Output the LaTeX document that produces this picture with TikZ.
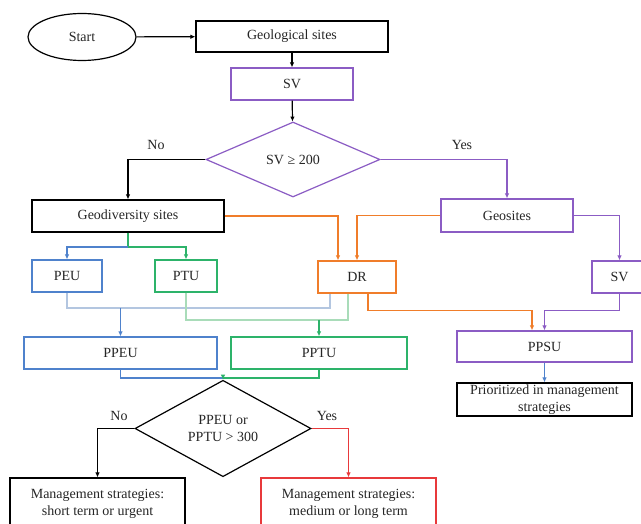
\documentclass[tikz,border=0pt]{standalone}
\usepackage{fontspec}
\setmainfont{Liberation Serif}
\usetikzlibrary{shapes.geometric,arrows.meta}
\definecolor{svpurple}{HTML}{8B5CC4}
\definecolor{drorange}{HTML}{F07D2A}
\definecolor{eublue}{HTML}{4F82CC}
\definecolor{tugreen}{HTML}{2DB36A}
\definecolor{paleblue}{HTML}{B3C6E0}
\definecolor{palegreen}{HTML}{A9DCB9}
\definecolor{ltred}{HTML}{E8393B}
\tikzset{
	box/.style={draw,rectangle,line width=1.2pt,inner sep=0pt,minimum height=32pt},
	decision/.style={draw,diamond,line width=1.2pt,inner sep=0pt,align=center},
	arrow/.style={line width=1.2pt,-{Latex[length=5pt,width=4.5pt]}},
	link/.style={line width=1.2pt}
}
\begin{document}
\begin{tikzpicture}[x=1pt,y=-1pt,font=\fontsize{14}{17}\selectfont,text=black!85]
	\useasboundingbox[fill=white] (0,0) rectangle (641,524);
	% nodes, placed at pixel coordinates
	\node[draw,ellipse,line width=1.2pt,minimum width=108pt,minimum height=47pt] (start) at (82,37) {Start};
	\node[box,minimum width=192pt,minimum height=31pt] (geo) at (292,36.5) {Geological sites};
	\node[box,draw=svpurple,minimum width=122pt] (sv) at (292,84) {SV};
	\node[decision,draw=svpurple,minimum width=174pt,minimum height=75pt] (dec) at (293,159.5) {SV ≥ 200};
	\node[box,minimum width=192pt] (geodiv) at (128,216) {Geodiversity sites};
	\node[box,draw=svpurple,minimum width=132pt,minimum height=33pt] (geosites) at (507,215.5) {Geosites};
	\node[box,draw=eublue,minimum width=70pt] (peu) at (67,276) {PEU};
	\node[box,draw=tugreen,minimum width=62pt] (ptu) at (186,276) {PTU};
	\node[box,draw=drorange,minimum width=78pt] (dr) at (357,277) {DR};
	\node[box,draw=svpurple,minimum width=55pt] (svr) at (619.5,277) {SV};
	\node[box,draw=eublue,minimum width=193pt] (ppeu) at (120.5,353) {PPEU};
	\node[box,draw=tugreen,minimum width=176pt] (pptu) at (319,353) {PPTU};
	\node[box,draw=svpurple,minimum width=175pt,minimum height=31pt] (ppsu) at (544.5,346.5) {PPSU};
	\node[box,align=center,minimum width=175pt,minimum height=33pt] (prio) at (544.5,399.5) {Prioritized in management\\strategies};
	\node[decision,minimum width=176pt,minimum height=77pt] (dec2) at (223,428.5) {PPEU or\\PPTU > 300};
	\node[box,align=center,minimum width=175pt,minimum height=52pt] (short) at (97.5,504) {Management strategies:\\short term or urgent};
	\node[box,draw=ltred,align=center,minimum width=175pt,minimum height=52pt] (long) at (348.5,504) {Management strategies:\\medium or long term};
	\node (no) at (156,145) {No};
	\node (yes) at (462,145) {Yes};
	\node (no2) at (119,416) {No};
	\node (yes2) at (327,416) {Yes};
	% joints
	\coordinate (jd) at (128,247);
	\coordinate (jb) at (120.5,308);
	\coordinate (jg) at (319,320);
	\coordinate (jm) at (223,378);
	% connectors
	\draw[arrow] (start) -- (geo);
	\draw[arrow] (geo) -- (sv);
	\draw[arrow] (sv) -- (dec);
	\draw[arrow] (dec.west) -| (geodiv.north);
	\draw[arrow,svpurple] (dec.east) -| (geosites.north);
	\draw[link,tugreen] (geodiv.south) -- (jd);
	\draw[arrow,eublue] (jd) -| (peu.north);
	\draw[arrow,tugreen] (jd) -| (ptu.north);
	\draw[arrow,drorange] (geodiv.east) -| ([xshift=-19pt]dr.north);
	\draw[arrow,drorange] (geosites.west) -| (dr.north);
	\draw[arrow,svpurple] (geosites.east) -| (svr.north);
	\draw[link,paleblue] (peu.south) |- (jb) -| ([xshift=-27pt]dr.south);
	\draw[arrow,eublue] (jb) -- (ppeu.north);
	\draw[link,palegreen] (ptu.south) |- (jg) -| ([xshift=-9pt]dr.south);
	\draw[arrow,tugreen] (jg) -- (pptu.north);
	\draw[arrow,drorange] ([xshift=11pt]dr.south) |- ([xshift=-12.5pt,yshift=20pt]ppsu.north) -- ([xshift=-12.5pt]ppsu.north);
	\draw[arrow,svpurple] (svr.south) |- ([yshift=20pt]ppsu.north) -- (ppsu.north);
	\draw[arrow,eublue] (ppsu) -- (prio);
	\draw[link,eublue] (ppeu.south) |- (jm);
	\draw[link,tugreen] (pptu.south) |- (jm);
	\draw[arrow,tugreen] (jm) -- (dec2.north);
	\draw[arrow] (dec2.west) -| (short.north);
	\draw[arrow,ltred] (dec2.east) -| (long.north);
\end{tikzpicture}
\end{document}
